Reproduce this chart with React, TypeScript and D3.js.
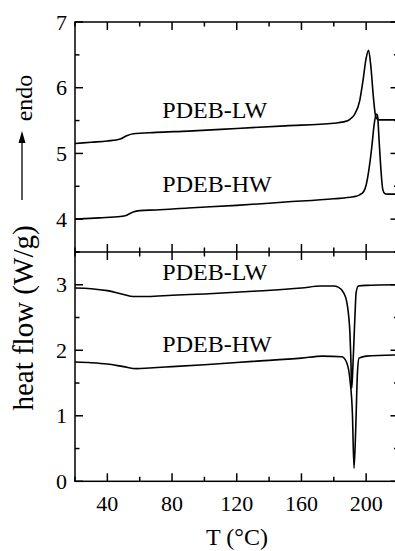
import React from "react";
import * as d3 from "d3";

// Top panel (heating, endo up)
const topLW_T = [20, 30, 40, 48, 52, 56, 70, 90, 120, 150, 180, 186, 190, 193, 196, 198, 200, 201.5, 203, 204.5, 206, 208, 220];
const topLW_V = [5.15, 5.17, 5.19, 5.22, 5.27, 5.30, 5.32, 5.34, 5.38, 5.42, 5.46, 5.48, 5.52, 5.6, 5.8, 6.1, 6.45, 6.57, 6.3, 5.85, 5.55, 5.51, 5.51];
const topHW_T = [20, 35, 48, 52, 56, 60, 70, 90, 120, 150, 180, 192, 196, 198.5, 200, 201.5, 203.5, 205, 206.3, 207, 208, 209, 210.3, 211.5, 213, 220];
const topHW_V = [4.0, 4.02, 4.04, 4.06, 4.11, 4.13, 4.14, 4.17, 4.21, 4.26, 4.31, 4.34, 4.37, 4.42, 4.52, 4.72, 5.10, 5.45, 5.60, 5.58, 5.2, 4.8, 4.45, 4.39, 4.38, 4.38];

// Bottom panel (cooling)
const botLW_T = [20, 30, 40, 50, 56, 65, 80, 100, 130, 160, 172, 179.6, 183, 186, 188, 189, 190, 190.5, 191.1, 191.8, 192.5, 193.2, 193.8, 195.2, 200, 220];
const botLW_V = [2.95, 2.94, 2.91, 2.85, 2.82, 2.82, 2.84, 2.86, 2.90, 2.95, 2.98, 2.98, 2.96, 2.88, 2.74, 2.57, 2.25, 1.91, 1.42, 1.75, 2.17, 2.6, 2.88, 2.98, 2.99, 3.0];
const botHW_T = [20, 30, 40, 50, 58, 66, 80, 100, 130, 160, 173, 185, 188, 190, 191.5, 192.5, 193.6, 194.6, 195.6, 200, 220];
const botHW_V = [1.82, 1.81, 1.79, 1.75, 1.72, 1.73, 1.75, 1.78, 1.83, 1.88, 1.91, 1.90, 1.81, 1.55, 1.04, 0.20, 0.84, 1.65, 1.88, 1.91, 1.93];

const xMajor = [40, 80, 120, 160, 200];
const xMinor = [20, 60, 100, 140, 180, 220];
const topMajor = [4, 5, 6, 7];
const topMinor = [3.5, 4.5, 5.5, 6.5];
const botMajor = [0, 1, 2, 3];
const botMinor = [0.5, 1.5, 2.5, 3.5];

const labels = [
  { panel: "top", text: "PDEB-LW", T: 74, v: 5.5 },
  { panel: "top", text: "PDEB-HW", T: 74, v: 4.37 },
  { panel: "bot", text: "PDEB-LW", T: 74, v: 3.03 },
  { panel: "bot", text: "PDEB-HW", T: 74, v: 1.93 },
];

const FONT = "'Liberation Serif', 'DejaVu Serif', serif";

export default function App() {
  const W = 395, H = 551;
  const x = d3.scaleLinear().domain([20, 220]).range([75, 398.5]);
  const yTop = d3.scaleLinear().domain([3.5, 7]).range([252, 22]);
  const yBot = d3.scaleLinear().domain([0, 3.5]).range([481.3, 252]);

  const mkLine = (ys: d3.ScaleLinear<number, number>) =>
    d3.line<[number, number]>().x(d => x(d[0])).y(d => ys(d[1])).curve(d3.curveMonotoneX);
  const lt = mkLine(yTop);
  const lb = mkLine(yBot);
  const zip = (a: number[], b: number[]) => a.map((t, i) => [t, b[i]] as [number, number]);

  const x0 = x.range()[0], x1 = x.range()[1];
  const sw = 1.5;

  const xTicks = (yPos: number, dir: number) => (
    <g>
      {xMajor.map(t => <line key={"M" + t} x1={x(t)} x2={x(t)} y1={yPos} y2={yPos + dir * 8} stroke="#000" strokeWidth={sw} />)}
      {xMinor.map(t => <line key={"m" + t} x1={x(t)} x2={x(t)} y1={yPos} y2={yPos + dir * 4.5} stroke="#000" strokeWidth={sw} />)}
    </g>
  );
  const yTicks = (ys: d3.ScaleLinear<number, number>, major: number[], minor: number[]) => (
    <g>
      {major.map(v => (
        <g key={"M" + v}>
          <line x1={x0} x2={x0 + 8} y1={ys(v)} y2={ys(v)} stroke="#000" strokeWidth={sw} />
          <line x1={x1} x2={x1 - 8} y1={ys(v)} y2={ys(v)} stroke="#000" strokeWidth={sw} />
        </g>
      ))}
      {minor.map(v => (
        <g key={"m" + v}>
          <line x1={x0} x2={x0 + 4.5} y1={ys(v)} y2={ys(v)} stroke="#000" strokeWidth={sw} />
          <line x1={x1} x2={x1 - 4.5} y1={ys(v)} y2={ys(v)} stroke="#000" strokeWidth={sw} />
        </g>
      ))}
    </g>
  );

  return (
    <svg width={W} height={H} style={{ position: "absolute", left: 0, top: 0, background: "#fff" }} fontFamily={FONT}>
      <rect x={0} y={0} width={W} height={H} fill="#fff" />
      {/* frames */}
      <rect x={x0} y={22} width={x1 - x0} height={481.3 - 22} fill="none" stroke="#000" strokeWidth={sw} />
      <line x1={x0} x2={x1} y1={252} y2={252} stroke="#000" strokeWidth={sw} />
      {xTicks(22, 1)}
      {xTicks(252, -1)}
      {xTicks(252, 1)}
      {xTicks(481.3, -1)}
      {yTicks(yTop, topMajor, topMinor)}
      {yTicks(yBot, botMajor, botMinor)}

      {/* curves */}
      <path d={lt(zip(topLW_T, topLW_V)) || ""} fill="none" stroke="#000" strokeWidth={1.6} />
      <path d={lt(zip(topHW_T, topHW_V)) || ""} fill="none" stroke="#000" strokeWidth={1.6} />
      <path d={lb(zip(botLW_T, botLW_V)) || ""} fill="none" stroke="#000" strokeWidth={1.6} />
      <path d={lb(zip(botHW_T, botHW_V)) || ""} fill="none" stroke="#000" strokeWidth={1.6} />

      {/* labels */}
      {labels.map((l, i) => {
        const ys = l.panel === "top" ? yTop : yBot;
        return <text key={i} x={x(l.T)} y={ys(l.v) - 3} fontSize={24} fill="#000">{l.text}</text>;
      })}

      {/* tick labels */}
      {xMajor.map(t => <text key={"xl" + t} x={x(t)} y={511} fontSize={22} textAnchor="middle">{t}</text>)}
      {topMajor.map(v => <text key={"yt" + v} x={67} y={yTop(v) + 7.5} fontSize={22} textAnchor="end">{v}</text>)}
      {botMajor.map(v => <text key={"yb" + v} x={67} y={yBot(v) + 7.5} fontSize={22} textAnchor="end">{v}</text>)}

      {/* axis titles */}
      <text x={237} y={545} fontSize={24} textAnchor="middle">T (°C)</text>
      <text transform="translate(33,318) rotate(-90)" fontSize={29} textAnchor="middle">heat flow (W/g)</text>
      <line x1={22} x2={22} y1={200} y2={142} stroke="#000" strokeWidth={1.3} />
      <path d="M22,131 L18.5,143 L25.5,143 Z" fill="#000" />
      <text transform="translate(32,98) rotate(-90)" fontSize={24} textAnchor="middle">endo</text>
    </svg>
  );
}
